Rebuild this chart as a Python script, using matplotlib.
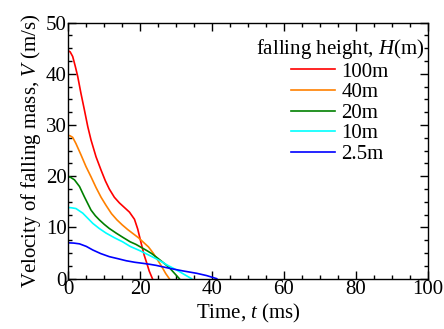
import matplotlib
matplotlib.use('Agg')
import matplotlib.pyplot as plt
from matplotlib.ticker import MultipleLocator

plt.rcParams['font.family'] = ['Liberation Serif', 'DejaVu Serif']
plt.rcParams['mathtext.fontset'] = 'custom'
plt.rcParams['mathtext.rm'] = 'Liberation Serif'
plt.rcParams['mathtext.it'] = 'Liberation Serif:italic'

# velocity histories (time in ms, velocity in m/s) per falling height
t_100 = [0, 0.5, 1.2, 1.95, 2.6, 3.5, 4.45, 5.4, 6.3, 7.7, 9.1, 10.3, 11.4,
         12.8, 14.2, 15.6, 17.0, 18.4, 19.3, 20.2, 21.1, 21.8, 22.5, 23.4]
v_100 = [44.5, 44.3, 43.4, 41.4, 39.5, 36.2, 33.0, 29.7, 27.1, 23.8, 21.2, 19.1, 17.5,
         15.9, 14.8, 13.9, 13.0, 11.6, 9.7, 7.1, 4.6, 3.1, 1.5, 0]

t_40 = [0, 0.5, 1.2, 2.1, 3.5, 4.9, 6.3, 7.7, 9.1, 10.5, 12.0, 13.5, 15.0,
        16.5, 18.0, 19.5, 20.9, 22.3, 23.6, 24.8, 26.0, 27.1, 28.1]
v_40 = [28.0, 27.9, 27.6, 26.4, 24.2, 21.9, 19.9, 17.8, 15.9, 14.3, 12.7, 11.5, 10.5,
        9.6, 8.8, 8.0, 7.1, 6.2, 5.0, 3.7, 2.35, 1.0, 0]

t_20 = [0, 0.6, 1.7, 3.1, 4.45, 6.3, 7.5, 8.6, 10.0, 11.4, 13.3, 15.1, 17.2,
        18.8, 20.3, 21.8, 23.2, 24.5, 25.5, 27.0, 28.3, 29.6, 30.9]
v_20 = [19.9, 19.8, 19.3, 18.0, 16.0, 13.4, 12.3, 11.5, 10.6, 9.8, 8.9, 8.1, 7.2,
        6.7, 6.1, 5.5, 4.9, 4.2, 3.65, 2.8, 2.0, 1.0, 0]

t_10 = [0, 0.8, 2.1, 4.0, 5.4, 6.8, 8.6, 10.5, 12.8, 15.1, 17.2, 19.8, 22.7,
        24.4, 26.0, 27.4, 29.3, 31.1, 32.8, 34.3]
v_10 = [13.9, 13.85, 13.7, 12.8, 11.8, 10.8, 9.8, 8.9, 8.0, 7.2, 6.3, 5.5, 4.5,
        3.9, 3.3, 2.7, 2.0, 1.3, 0.6, 0]

t_2_5 = [0, 1.5, 3.1, 5.0, 6.8, 9.0, 11.4, 13.8, 16.1, 18.5, 20.7, 22.7, 24.4,
         28.3, 32.0, 35.7, 38.5, 41.3]
v_2_5 = [7.0, 6.95, 6.8, 6.3, 5.6, 4.9, 4.3, 3.9, 3.5, 3.2, 3.0, 2.8, 2.6,
         2.0, 1.5, 1.05, 0.6, 0]

series = [
    ('100m', t_100, v_100, '#ff0000'),
    ('40m', t_40, v_40, '#ff8000'),
    ('20m', t_20, v_20, '#008000'),
    ('10m', t_10, v_10, '#00ffff'),
    ('2.5m', t_2_5, v_2_5, '#0000ff'),
]

fig = plt.figure(figsize=(4.44, 3.29), dpi=100)
ax = fig.add_axes([0.154, 0.153, 0.809, 0.778])

for label, t, v, c in series:
    ax.plot(t, v, color=c, lw=1.2, label=label)

ax.set_xlim(0, 100)
ax.set_ylim(0, 50)
ax.xaxis.set_major_locator(MultipleLocator(20))
ax.xaxis.set_minor_locator(MultipleLocator(5))
ax.yaxis.set_major_locator(MultipleLocator(10))
ax.yaxis.set_minor_locator(MultipleLocator(2.5))
ax.tick_params(which='both', direction='in', top=True, right=True,
               labelsize=15, width=1, pad=1)
ax.tick_params(which='major', length=6)
ax.tick_params(which='minor', length=3)
for s in ax.spines.values():
    s.set_linewidth(1)

ax.set_xlabel('Time, $t$ (ms)', fontsize=15, labelpad=2)
ax.set_ylabel('Velocity of falling mass, $V$ (m/s)', fontsize=15, labelpad=2)

ax.legend(title='falling height, $H$(m)', loc='upper right',
          bbox_to_anchor=(1.02, 0.985), frameon=False, fontsize=15,
          title_fontsize=15, handlelength=2.1, handletextpad=0.3,
          labelspacing=0.05, borderpad=0.0)

fig.savefig('out.png', dpi=100)
